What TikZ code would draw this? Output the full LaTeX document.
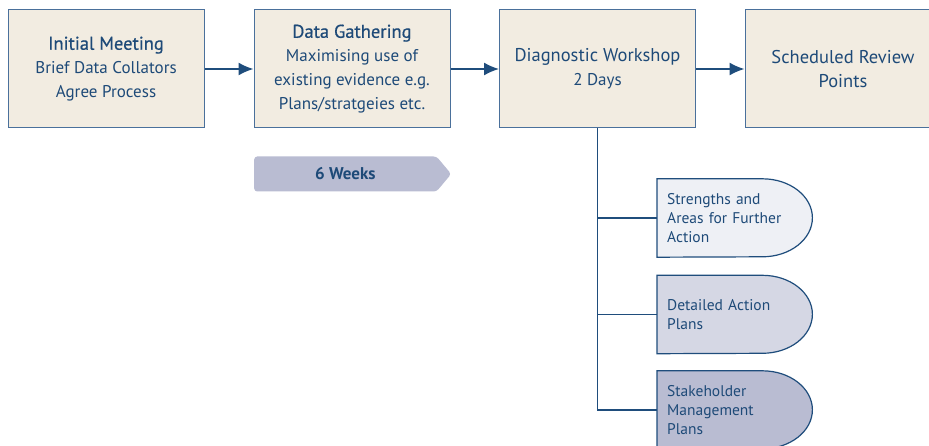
\documentclass[tikz,border=0pt]{standalone}
\usepackage{fontspec}
\setmainfont{PT Sans}
\newfontface\medfont[FakeBold=0.6]{PT Sans}
\newcommand\stagetitle{\fontsize{18.5}{24}\selectfont}
\definecolor{PlanBeige}{RGB}{242,236,225}
\definecolor{PlanEdge}{RGB}{74,112,155}
\definecolor{PlanNavy}{RGB}{31,77,124}
\definecolor{PlanText}{RGB}{30,74,120}
\definecolor{OutcomeLight}{RGB}{238,240,245}
\definecolor{OutcomeMid}{RGB}{213,215,228}
\definecolor{OutcomeDark}{RGB}{185,188,210}
\usetikzlibrary{positioning,arrows.meta,shapes.symbols,backgrounds}

\begin{document}
\begin{tikzpicture}[x=1pt,y=-1pt,
    stage/.style={draw=PlanEdge,line width=1pt,fill=PlanBeige,text=PlanText,align=center,
        minimum width=196pt,minimum height=118pt,inner sep=2pt,font=\fontsize{17}{24}\selectfont},
    outcome/.style={text=PlanText,align=left,text width=135pt,minimum height=78pt,
        inner xsep=10pt,inner ysep=0pt,anchor=west,font=\fontsize{15.5}{19}\selectfont},
    shell/.style={draw=PlanNavy,line width=1.2pt},
    link/.style={draw=PlanNavy,line width=1.6pt},
    flow/.style={link,-{Latex[length=15pt,width=13pt]}},
    weeks/.style={signal,signal to=east,signal pointer angle=100,fill=OutcomeDark,text=PlanText,
        font=\bfseries\fontsize{17}{20}\selectfont,minimum width=197pt,minimum height=35pt,
        anchor=west,rounded corners=3pt}]
    \useasboundingbox (0,0) rectangle (929,446);
    % stages along the top
    \node[stage] (meeting)   at (106,69)   {{\stagetitle\medfont Initial Meeting}\\Brief Data Collators\\Agree Process};
    \node[stage] (gathering) at (352,69)   {{\stagetitle\medfont Data Gathering}\\Maximising use of\\existing evidence e.g.\\Plans/stratgeies etc.};
    \node[stage] (workshop)  at (597.5,69) {{\stagetitle Diagnostic Workshop}\\2 Days};
    \node[stage] (review)    at (843,69)   {{\stagetitle Scheduled Review}\\{\stagetitle Points}};
    \draw[flow] (meeting) -- (gathering);
    \draw[flow] (gathering) -- (workshop);
    \draw[flow] (workshop) -- (review);
    \node[weeks] (weeks) at (254,174) {6 Weeks};
    % workshop outcomes
    \node[outcome] (strengths)    at (657,218) {Strengths and\\Areas for Further\\Action};
    \node[outcome] (actions)      at (657,314.5) {Detailed Action\\Plans};
    \node[outcome] (stakeholders) at (657,410) {Stakeholder\\Management\\Plans};
    \begin{scope}[on background layer]
      \foreach \o/\c in {strengths/OutcomeLight,actions/OutcomeMid,stakeholders/OutcomeDark}
        \draw[shell,fill=\c] (\o.north west) -- ([xshift=-50pt]\o.north east)
          arc[start angle=90,end angle=-90,x radius=50pt,y radius=39pt] -- (\o.south west) -- cycle;
    \end{scope}
    \foreach \o in {strengths,actions,stakeholders}
      \draw[link] (workshop.south) |- (\o.west);
\end{tikzpicture}
\end{document}
